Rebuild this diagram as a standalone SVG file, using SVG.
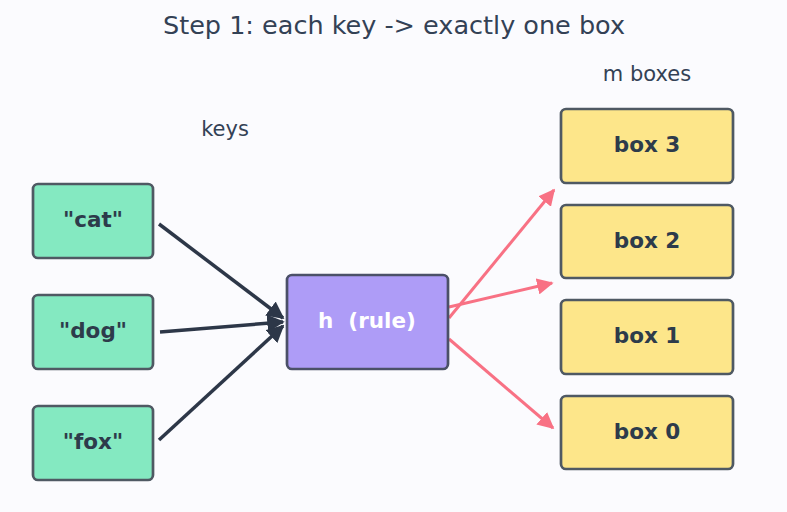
<svg xmlns="http://www.w3.org/2000/svg" width="787" height="512" viewBox="0 0 787 512">
<style>
text{font-family:"DejaVu Sans","Liberation Sans",sans-serif;fill:#334155;text-anchor:middle;dominant-baseline:central}
.lbl{font-weight:bold;font-size:21.5px;fill:#2d3b4b}
.key rect{fill:#84e9c1;stroke:#4f5963;stroke-width:2.7}
.box rect{fill:#fde68a;stroke:#4f5963;stroke-width:2.7}
.dark{stroke:#2d3748;stroke-width:3.5;fill:none;marker-end:url(#ad)}
.pink{stroke:#f87184;stroke-width:3;fill:none;marker-end:url(#ap)}
</style>
<defs>
<marker id="ad" viewBox="0 0 10 10" refX="9" refY="5" markerWidth="5" markerHeight="5" orient="auto" markerUnits="strokeWidth"><path d="M0,0L10,5L0,10z" fill="#2d3748"/></marker>
<marker id="ap" viewBox="0 0 10 10" refX="9" refY="5" markerWidth="5.5" markerHeight="5.5" orient="auto" markerUnits="strokeWidth"><path d="M0,0L10,5L0,10z" fill="#f87184"/></marker>
</defs>
<rect width="787" height="512" fill="#fbfbfe"/>
<text x="394" y="25" style="font-size:25.5px">Step 1: each key -&gt; exactly one box</text>
<text x="225" y="128.5" style="font-size:21px">keys</text>
<text x="647" y="74" style="font-size:21px">m boxes</text>
<g id="connectors">
<line class="dark" x1="159" y1="224" x2="283" y2="318"/>
<line class="dark" x1="160" y1="332" x2="283" y2="322"/>
<line class="dark" x1="159" y1="440" x2="283" y2="326"/>
<line class="pink" x1="449" y1="318" x2="554" y2="190"/>
<line class="pink" x1="449" y1="307" x2="552" y2="283"/>
<line class="pink" x1="449" y1="339" x2="553" y2="428"/>
</g>
<g id="cat" class="key"><rect x="33" y="184" width="120" height="74" rx="5"/><text class="lbl" x="93" y="219.5">"cat"</text></g>
<g id="dog" class="key"><rect x="33" y="295" width="120" height="74" rx="5"/><text class="lbl" x="93" y="330.5">"dog"</text></g>
<g id="fox" class="key"><rect x="33" y="406" width="120" height="74" rx="5"/><text class="lbl" x="93" y="441.5">"fox"</text></g>
<g id="h"><rect x="287" y="275" width="161" height="94" rx="5" fill="#ae9cf7" stroke="#4b5068" stroke-width="2.7"/><text class="lbl" x="367" y="320.5" style="fill:#ffffff" xml:space="preserve">h  (rule)</text></g>
<g id="box3" class="box"><rect x="561" y="109" width="172" height="74" rx="5"/><text class="lbl" x="647" y="144.5">box 3</text></g>
<g id="box2" class="box"><rect x="561" y="205" width="172" height="73" rx="5"/><text class="lbl" x="647" y="240">box 2</text></g>
<g id="box1" class="box"><rect x="561" y="300" width="172" height="74" rx="5"/><text class="lbl" x="647" y="335.5">box 1</text></g>
<g id="box0" class="box"><rect x="561" y="396" width="172" height="73" rx="5"/><text class="lbl" x="647" y="431">box 0</text></g>
</svg>
